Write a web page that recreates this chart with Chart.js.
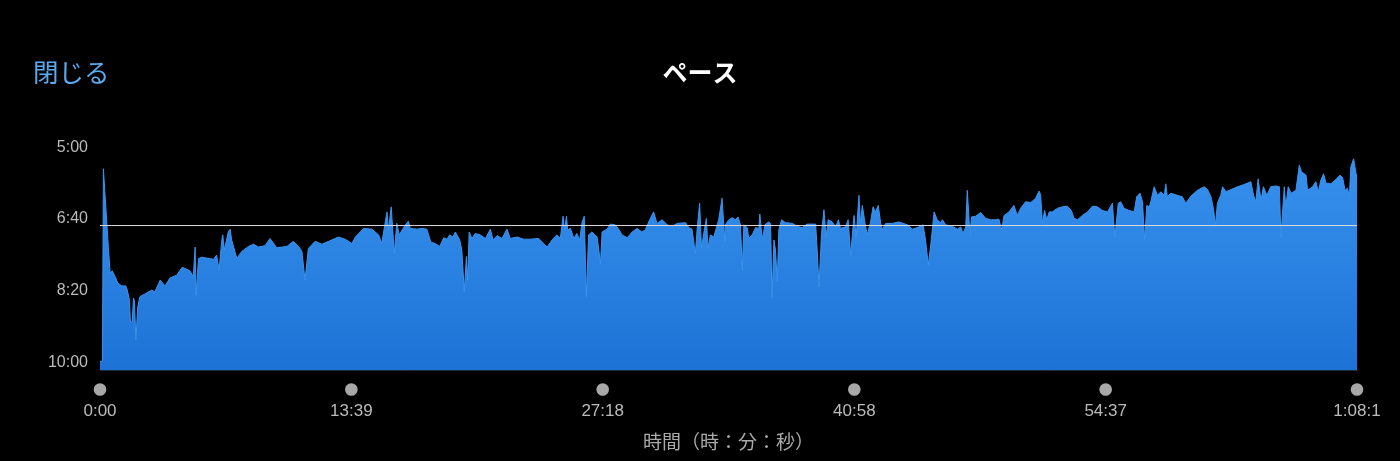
<!DOCTYPE html>
<html lang="ja">
<head>
<meta charset="utf-8">
<title>ペース</title>
<script src="https://cdn.jsdelivr.net/npm/chart.js@4.4.1/dist/chart.umd.min.js"></script>
<style>
  html, body { margin: 0; padding: 0; background: #000; }
  #wrap { width: 1400px; height: 461px; }
</style>
</head>
<body>
<div id="wrap"><canvas id="pace-chart" width="1400" height="461"></canvas></div>
<script>
// 経過時間 (秒)
const elapsedSec = [
    0, 8, 11, 27, 33, 40, 49, 58, 71, 84, 89, 96, 99, 105, 109, 112, 117, 123, 130, 147,
    168, 179, 196, 212, 228, 250, 268, 293, 304, 310, 313, 321, 331, 370, 380, 388, 397, 400, 405, 418,
    424, 429, 446, 462, 484, 500, 516, 538, 554, 576, 609, 630, 647, 658, 668, 679, 701, 723, 745, 777,
    799, 821, 832, 859, 886, 908, 918, 935, 940, 949, 959, 967, 975, 995, 1005,
    1011, 1033, 1049, 1065, 1078, 1092, 1107, 1120, 1131, 1139, 1150, 1158, 1172, 1179, 1187, 1194, 1198, 1203, 1212, 1223,
    1239, 1256, 1272, 1281, 1294, 1310, 1326, 1337, 1359, 1381, 1402, 1429, 1446, 1457, 1473, 1489, 1500, 1509, 1514, 1520,
    1524, 1533, 1544, 1554, 1563, 1571, 1578, 1585, 1592, 1603, 1620, 1631, 1636, 1652, 1663, 1679, 1690, 1701, 1718, 1734,
    1750, 1766, 1777, 1791, 1804, 1815, 1832, 1848, 1864, 1881, 1908, 1919, 1929, 1940, 1946, 1954, 1960, 1968, 1976, 1981,
    1989, 2000, 2016, 2027, 2036,
    2038, 2049, 2060, 2071, 2079, 2087, 2093, 2098, 2109, 2114, 2125, 2136, 2147, 2150, 2156, 2160, 2166, 2179, 2185, 2190,
    2196, 2201, 2207, 2212, 2221, 2234, 2256, 2272, 2288, 2304, 2332, 2337, 2343, 2351, 2359, 2366, 2373, 2386, 2397, 2406,
    2413, 2429, 2438, 2446, 2457, 2464, 2473, 2478, 2484, 2493, 2500, 2511, 2519, 2527, 2536, 2544, 2549, 2560, 2582, 2603,
    2631, 2647, 2663, 2682, 2690, 2699, 2707, 2718, 2728, 2739, 2745, 2756, 2777, 2794, 2805, 2812, 2821, 2826, 2835, 2840,
    2853, 2870, 2886, 2902, 2919, 2929, 2938, 2946, 2962, 2978, 2989, 3000, 3016, 3033, 3049, 3060, 3065,
    3071, 3078, 3085, 3093, 3103, 3120, 3136, 3152, 3165, 3174, 3185, 3201, 3218, 3234, 3250, 3266, 3283, 3299, 3307, 3318,
    3326, 3337, 3353, 3370, 3378, 3389, 3397, 3404, 3411, 3419, 3424, 3435, 3446, 3457, 3468, 3473, 3478, 3489, 3511, 3527,
    3538, 3555, 3576, 3598, 3609, 3620, 3628, 3635, 3641, 3652, 3658, 3669, 3685, 3707, 3728, 3750, 3759, 3766, 3774, 3783,
    3791, 3802, 3815, 3832, 3843, 3848, 3859, 3864, 3872, 3881, 3897, 3908, 3915, 3930, 3935, 3951, 3962, 3970, 3978, 3987,
    3995, 4011, 4027, 4040, 4049, 4057, 4065, 4071, 4076, 4085, 4093, 4096
];

// ペース (秒/km)
const paceSec = [
    598, 598, 330, 438, 475, 472, 480, 489, 493, 493, 499, 513, 543, 543, 510, 513, 568, 522, 508, 504,
    499, 501, 485, 493, 482, 478, 467, 472, 480, 439, 506, 455, 453, 456, 450, 471, 429, 422, 443, 418,
    414, 429, 455, 445, 438, 435, 439, 437, 427, 440, 438, 431, 438, 445, 485, 441, 431, 435, 431, 425,
    428, 434, 425, 413, 414, 422, 434, 390, 415, 383, 448, 406, 422, 408, 403,
    413, 414, 413, 414, 432, 434, 438, 426, 428, 422, 425, 418, 429, 443, 501, 452, 485, 418, 427, 420,
    422, 427, 414, 429, 423, 427, 414, 427, 425, 428, 428, 427, 434, 439, 429, 422, 427, 396, 415, 396,
    415, 413, 427, 420, 429, 404, 396, 508, 422, 418, 425, 462, 418, 414, 407, 408, 414, 422, 426, 418,
    413, 418, 415, 401, 390, 406, 401, 408, 410, 406, 405, 412, 414, 448, 413, 378, 441, 418, 399, 441,
    422, 425, 401, 371, 431,
    408, 401, 398, 401, 397, 408, 471, 408, 412, 427, 422, 412, 413, 393, 420, 427, 408, 404, 406, 510,
    429, 443, 487, 415, 401, 405, 406, 410, 412, 407, 407, 443, 494, 420, 387, 425, 401, 404, 411, 401,
    413, 411, 401, 450, 395, 425, 367, 406, 381, 406, 422, 404, 383, 390, 381, 406, 415, 406, 406, 404,
    408, 414, 412, 408, 429, 464, 436, 390, 401, 405, 401, 408, 410, 414, 411, 420, 411, 360, 422, 397,
    396, 391, 399, 401, 401, 400, 415, 395, 390, 381, 395, 385, 376, 377, 371, 361, 366,
    406, 388, 401, 390, 390, 385, 383, 382, 388, 399, 401, 395, 390, 382, 383, 388, 390, 378, 425, 378,
    376, 385, 388, 390, 369, 364, 376, 429, 381, 383, 376, 355, 367, 362, 367, 351, 369, 364, 367, 369,
    378, 368, 360, 355, 359, 369, 385, 408, 378, 367, 355, 362, 359, 355, 352, 348, 367, 376, 344, 374,
    355, 367, 355, 354, 355, 425, 355, 383, 355, 364, 360, 325, 334, 339, 360, 355, 348, 362, 346, 337,
    350, 351, 345, 339, 342, 360, 357, 369, 327, 316, 337, 339
];

const avgPaceSec = 409;
const yTickValues = [300, 400, 500, 600];
const xTickValues = [0, 819, 1638, 2458, 3277, 4096];
const xTickLabels = ['0:00', '13:39', '27:18', '40:58', '54:37', '1:08:1'];

function formatPace(v) {
    return Math.floor(v / 60) + ':' + String(v % 60).padStart(2, '0');
}

// 目盛りの丸と見出し
const decorations = {
    id: 'decorations',
    afterDraw(chart) {
        const ctx = chart.ctx;
        const xScale = chart.scales.x;
        ctx.save();
        ctx.fillStyle = '#a8a8a8';
        xTickValues.forEach(v => {
            ctx.beginPath();
            ctx.arc(xScale.getPixelForValue(v), 389.5, 6.3, 0, Math.PI * 2);
            ctx.fill();
        });
        ctx.textBaseline = 'middle';
        ctx.font = '25.5px "Noto Sans CJK JP"';
        ctx.fillStyle = '#5aaaf0';
        ctx.textAlign = 'left';
        ctx.fillText('閉じる', 33, 72);
        ctx.font = 'bold 25px "Noto Sans CJK JP"';
        ctx.fillStyle = '#ffffff';
        ctx.textAlign = 'center';
        ctx.fillText('ペース', 700, 72);
        ctx.restore();
    }
};

const ctx = document.getElementById('pace-chart');

new Chart(ctx, {
    type: 'line',
    data: {
        datasets: [{
            label: '平均',
            data: [{ x: 0, y: avgPaceSec }, { x: 4096, y: avgPaceSec }],
            borderColor: '#dcdcdc',
            borderWidth: 1,
            pointRadius: 0,
            fill: false,
            order: 0
        }, {
            label: 'ペース',
            data: elapsedSec.map((t, i) => ({ x: t, y: paceSec[i] })),
            borderColor: '#3b93ee',
            borderWidth: 1,
            pointRadius: 0,
            tension: 0,
            fill: 'start',
            backgroundColor: (context) => {
                const area = context.chart.chartArea;
                if (!area) return '#2a84e4';
                const g = context.chart.ctx.createLinearGradient(0, area.top, 0, area.bottom);
                g.addColorStop(0, '#3a93f0');
                g.addColorStop(1, '#1d73d5');
                return g;
            },
            order: 1
        }]
    },
    options: {
        responsive: false,
        animation: false,
        layout: {
            padding: { top: 140, right: 43, bottom: 0, left: 0 }
        },
        plugins: {
            legend: { display: false },
            tooltip: { enabled: false },
            title: { display: false }
        },
        scales: {
            x: {
                type: 'linear',
                min: 0,
                max: 4096,
                grid: { display: false, drawTicks: false },
                border: { display: true, color: '#1b2a3e' },
                afterBuildTicks: (scale) => {
                    scale.ticks = xTickValues.map(v => ({ value: v }));
                },
                ticks: {
                    autoSkip: false,
                    maxRotation: 0,
                    padding: 31,
                    color: '#bbbbbb',
                    font: { family: '"Liberation Sans", Arial, sans-serif', size: 17 },
                    callback: (v, i) => xTickLabels[i]
                },
                title: {
                    display: true,
                    text: '時間（時：分：秒）',
                    color: '#aaaaaa',
                    font: { family: '"Noto Sans CJK JP", sans-serif', size: 19 },
                    padding: { top: 0, bottom: 8 }
                },
                afterFit: (scale) => {
                    scale.height = 91;
                    scale.paddingLeft = 0;
                    scale.paddingRight = 0;
                }
            },
            y: {
                reverse: true,
                min: 290,
                max: 610,
                grid: { display: false, drawTicks: false },
                border: { display: false },
                afterBuildTicks: (scale) => {
                    scale.ticks = yTickValues.map(v => ({ value: v }));
                },
                ticks: {
                    padding: 12,
                    color: '#bbbbbb',
                    font: { family: '"Liberation Sans", Arial, sans-serif', size: 16 },
                    callback: (v) => formatPace(v)
                },
                afterFit: (scale) => { scale.width = 100; }
            }
        }
    },
    plugins: [decorations]
});
</script>
</body>
</html>
